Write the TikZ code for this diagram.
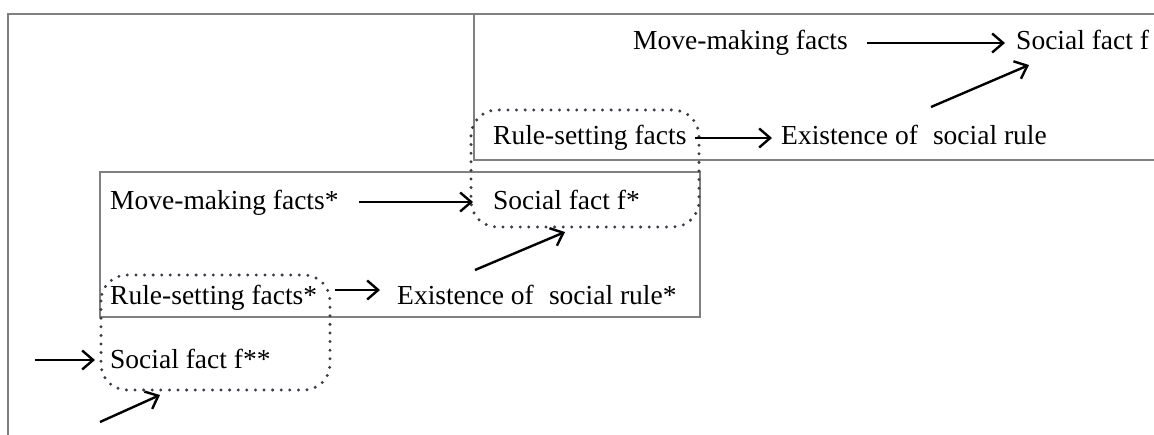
\documentclass[tikz,border=0pt]{standalone}
\usepackage{fontspec}
\setmainfont{Liberation Serif}
\usetikzlibrary{arrows.meta}
\definecolor{boxgray}{HTML}{808080}
\definecolor{dotgray}{HTML}{3C3C48}
\tikzset{
  txt/.style={anchor=base west, inner sep=0pt, font=\fontsize{27.5}{33}\selectfont},
  graybox/.style={draw=boxgray, line width=2.4pt},
  dotbox/.style={draw=dotgray, line width=3.3pt, line cap=round, dash pattern=on 0pt off 8.6pt, rounded corners=26pt},
  arr/.style={draw=black, line width=2.4pt, -{Straight Barb[length=11pt,width=19pt,line width=2.4pt]}}
}
\begin{document}
\begin{tikzpicture}[x=1pt,y=-1pt]
\useasboundingbox (0,0) rectangle (1154,435);
\begin{scope}
\clip (0,0) rectangle (1154,435);
% frames
\draw[graybox] (8,440) -- (8,14) -- (1160,14);
\draw[graybox] (474,14) rectangle (1165,160);
\draw[graybox] (100,172) rectangle (700,317);
\end{scope}
% dotted groups
\draw[dotbox] (471,110) rectangle (699,227);
\draw[dotbox] (101,275) rectangle (330,390);
% top box
\node[txt] (mm1) at (633,50) {Move-making facts};
\node[txt] (sf1) at (1016,50) {Social fact f};
\node[txt] (rs1) at (493,145) {Rule-setting facts};
\node[txt] (ex1) at (781,145) {Existence of\hspace{0.3em} social rule};
% middle box
\node[txt] (mm2) at (110,210) {Move-making facts*};
\node[txt] (sf2) at (493,210) {Social fact f*};
\node[txt] (rs2) at (110,305) {Rule-setting facts*};
\node[txt] (ex2) at (397,305) {Existence of\hspace{0.3em} social rule*};
% bottom
\node[txt] (sf3) at (110,369) {Social fact f**};
\coordinate (in1) at (35,360);
\coordinate (in2) at (100,422);
% arrows
\draw[arr] ([xshift=19pt,yshift=7pt]mm1.base east) -- ([xshift=-11pt,yshift=7pt]sf1.base west);
\draw[arr] ([xshift=8pt,yshift=7pt]rs1.base east) -- ([xshift=-9pt,yshift=7pt]ex1.base west);
\draw[arr] ([xshift=150pt,yshift=38pt]ex1.base west) -- ([xshift=13pt,yshift=-15pt]sf1.base west);
\draw[arr] ([xshift=20pt,yshift=8pt]mm2.base east) -- ([xshift=-20pt,yshift=8pt]sf2.base west);
\draw[arr] ([xshift=18pt,yshift=15pt]rs2.base east) -- ([xshift=-17pt,yshift=15pt]ex2.base west);
\draw[arr] ([xshift=78pt,yshift=35pt]ex2.base west) -- ([xshift=72pt,yshift=-22pt]sf2.base west);
\draw[arr] (in1) -- ([xshift=-15pt,yshift=9pt]sf3.base west);
\draw[arr] (in2) -- ([xshift=50pt,yshift=-26pt]sf3.base west);
\end{tikzpicture}
\end{document}
